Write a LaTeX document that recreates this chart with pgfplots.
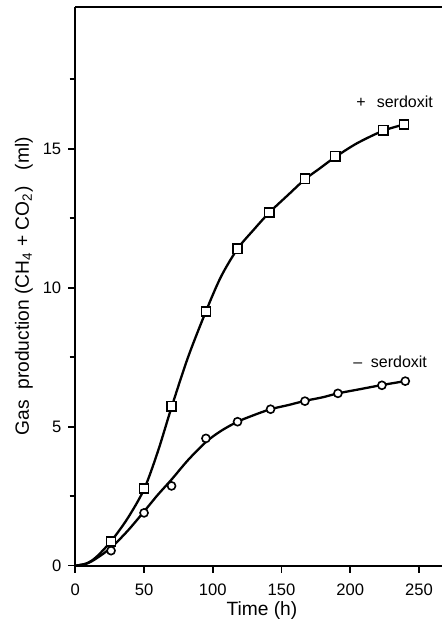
\documentclass[border=0pt]{standalone}
\usepackage{fontspec}
\setmainfont{Liberation Sans}
\usepackage{pgfplots}
\pgfplotsset{compat=1.18}

% measured gas production, with serdoxit (squares) and without (circles)
\pgfplotstableread{
t    v
26   0.87
50   2.78
70   5.74
95   9.15
118  11.4
141  12.7
167  13.92
189  14.73
224  15.67
239  15.87
}\withserdoxit
\pgfplotstableread{
t    v
26   0.54
50   1.90
70   2.87
95   4.58
118  5.18
142  5.63
167  5.92
191  6.20
223  6.49
240  6.64
}\withoutserdoxit
% fitted curves
\pgfplotstableread{
t    v
0    0
8    0.08
15   0.30
26   0.88
38   1.70
50   2.75
60   4.10
70   5.70
82   7.50
95   9.15
106  10.40
118  11.40
130  12.10
141  12.70
155  13.35
167  13.90
178  14.30
189  14.70
205  15.20
224  15.65
239  15.87
}\fitwith
\pgfplotstableread{
t    v
0    0
8    0.07
15   0.25
26   0.65
38   1.25
50   1.95
60   2.55
70   3.10
82   3.80
95   4.45
106  4.85
118  5.18
130  5.42
142  5.63
155  5.78
167  5.93
180  6.06
191  6.20
207  6.35
223  6.50
240  6.64
}\fitwithout

\begin{document}
\begin{tikzpicture}
\begin{axis}[
  scale only axis,
  width=183.35pt, height=279.35pt,
  xmin=0, xmax=266.7, ymin=0, ymax=20.1,
  axis x line*=box, axis y line*=left,
  axis line style={line width=0.9pt},
  xtick={0,50,100,150,200,250}, xtick pos=bottom,
  ytick={0,5,10,15}, minor ytick={2.5,7.5,12.5,17.5},
  tick align=outside,
  major tick length=3.5pt, minor tick length=2.8pt,
  every tick/.style={black, line width=0.8pt},
  /pgf/number format/assume math mode=true,
  tick label style={font=\fontsize{8.3}{10}\selectfont},
  xticklabel style={yshift=-2.3pt},
  xlabel={Time (h)},
  ylabel={Gas\ \ production (CH\textsubscript{4} + CO\textsubscript{2})\ \ \ (ml)},
  xlabel style={at={(axis description cs:0.509,0)}, yshift=-24.7pt,
    anchor=base, inner sep=0pt},
  ylabel style={at={(axis description cs:-0.14,0.5)}, anchor=center},
  label style={font=\fontsize{9.6}{11}\selectfont},
  clip=false,
]
\addplot[black, line width=1.15pt, smooth, tension=0.5] table[x=t,y=v] {\fitwith};
\addplot[black, line width=1.15pt, smooth, tension=0.5] table[x=t,y=v] {\fitwithout};
\addplot[only marks, mark=square*, mark size=2.3pt,
  mark options={fill=white, draw=black, line width=0.8pt}] table[x=t,y=v] {\withserdoxit};
\addplot[only marks, mark=*, mark size=2pt,
  mark options={fill=white, draw=black, line width=0.8pt}] table[x=t,y=v] {\withoutserdoxit};
\node[anchor=base west, inner sep=0pt, font=\fontsize{8}{10}\selectfont]
  at (axis cs:204.2,16.48) {+\hspace{5.5pt}serdoxit};
\node[anchor=base west, inner sep=0pt, font=\fontsize{8}{10}\selectfont]
  at (axis cs:202,7.12) {–\hspace{4.3pt}serdoxit};
\end{axis}
\pgfresetboundingbox
\path (-37.65pt,-27.15pt) rectangle (183.35pt,282.85pt);
\end{tikzpicture}
\end{document}
